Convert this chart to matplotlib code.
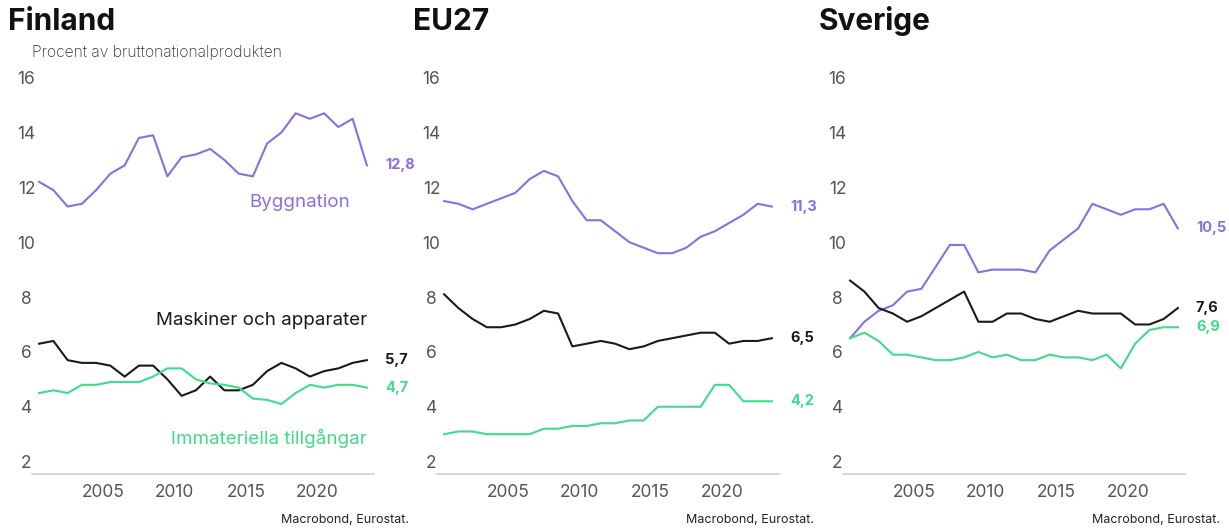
import matplotlib
matplotlib.use('Agg')
import matplotlib.pyplot as plt
import numpy as np

plt.rcParams['font.family'] = ['Inter', 'DejaVu Sans']

# Data: andel av BNP, 2000-2023
years = list(range(2000, 2024))

fi_bygg = [12.2, 11.9, 11.3, 11.4, 11.9, 12.5, 12.8, 13.8, 13.9, 12.4, 13.1, 13.2,
           13.4, 13.0, 12.5, 12.4, 13.6, 14.0, 14.7, 14.5, 14.7, 14.2, 14.5, 12.8]
fi_mask = [6.3, 6.4, 5.7, 5.6, 5.6, 5.5, 5.1, 5.5, 5.5, 5.0, 4.4, 4.6,
           5.1, 4.6, 4.6, 4.8, 5.3, 5.6, 5.4, 5.1, 5.3, 5.4, 5.6, 5.7]
fi_imm = [4.5, 4.6, 4.5, 4.8, 4.8, 4.9, 4.9, 4.9, 5.1, 5.4, 5.4, 5.0,
          4.85, 4.8, 4.7, 4.3, 4.25, 4.1, 4.5, 4.8, 4.7, 4.8, 4.8, 4.7]

eu_bygg = [11.5, 11.4, 11.2, 11.4, 11.6, 11.8, 12.3, 12.6, 12.4, 11.5, 10.8, 10.8,
           10.4, 10.0, 9.8, 9.6, 9.6, 9.8, 10.2, 10.4, 10.7, 11.0, 11.4, 11.3]
eu_mask = [8.1, 7.6, 7.2, 6.9, 6.9, 7.0, 7.2, 7.5, 7.4, 6.2, 6.3, 6.4,
           6.3, 6.1, 6.2, 6.4, 6.5, 6.6, 6.7, 6.7, 6.3, 6.4, 6.4, 6.5]
eu_imm = [3.0, 3.1, 3.1, 3.0, 3.0, 3.0, 3.0, 3.2, 3.2, 3.3, 3.3, 3.4,
          3.4, 3.5, 3.5, 4.0, 4.0, 4.0, 4.0, 4.8, 4.8, 4.2, 4.2, 4.2]

se_bygg = [6.5, 7.1, 7.5, 7.7, 8.2, 8.3, 9.1, 9.9, 9.9, 8.9, 9.0, 9.0,
           9.0, 8.9, 9.7, 10.1, 10.5, 11.4, 11.2, 11.0, 11.2, 11.2, 11.4, 10.5]
se_mask = [8.6, 8.2, 7.6, 7.4, 7.1, 7.3, 7.6, 7.9, 8.2, 7.1, 7.1, 7.4,
           7.4, 7.2, 7.1, 7.3, 7.5, 7.4, 7.4, 7.4, 7.0, 7.0, 7.2, 7.6]
se_imm = [6.5, 6.7, 6.4, 5.9, 5.9, 5.8, 5.7, 5.7, 5.8, 6.0, 5.8, 5.9,
          5.7, 5.7, 5.9, 5.8, 5.8, 5.7, 5.9, 5.4, 6.3, 6.8, 6.9, 6.9]

titles = ['Finland', 'EU27', 'Sverige']
panels = [(fi_bygg, fi_mask, fi_imm), (eu_bygg, eu_mask, eu_imm), (se_bygg, se_mask, se_imm)]

# färger
lila = '#8a6fe0'
svart = '#1a1a1a'
gron = '#3fdc8a'
farger = [lila, svart, gron]

fig = plt.figure(figsize=(12.29, 5.30), dpi=100)

lefts = [32, 437, 843]
W, H = 1229, 530
x = np.array(years) + 0.5

for i, (title, serier) in enumerate(zip(titles, panels)):
    ax = fig.add_axes([lefts[i] / W, 0.1057, 342 / W, 0.7737])
    for s, c in zip(serier, farger):
        ax.plot(x, s, color=c, lw=1.5, solid_joinstyle='round')
        ax.annotate(f'{s[-1]:.1f}'.replace('.', ','), (x[-1], s[-1]),
                    xytext=(13, 0), textcoords='offset points',
                    va='center', ha='left', fontsize=10.5, fontweight='bold', color=c)
    ax.set_xlim(2000, 2024)
    ax.set_ylim(1.55, 16.5)
    ax.set_yticks([2, 4, 6, 8, 10, 12, 14, 16])
    ax.set_xticks([2005, 2010, 2015, 2020])
    for sp in ['top', 'right', 'left']:
        ax.spines[sp].set_visible(False)
    ax.spines['bottom'].set_color('#d0d0d0')
    ax.spines['bottom'].set_linewidth(1.2)
    ax.tick_params(axis='both', length=0, labelsize=12.5, labelcolor='#555555')
    ax.tick_params(axis='y', pad=4)
    ax.tick_params(axis='x', pad=7)
    for lab in ax.get_yticklabels():
        lab.set_ha('center')
    ax.patch.set_alpha(0)

    fig.text((lefts[i] - 24) / W, 1 - 30 / H, title, fontsize=21.5, fontweight='bold',
             va='baseline', ha='left', color='#111111')
    fig.text((lefts[i] + 342 + 35) / W, 1 - 520 / H, 'Macrobond, Eurostat.',
             fontsize=9, ha='right', va='center', color='#222222')

    if i == 0:
        fig.text(32 / W, 1 - 57 / H, 'Procent av bruttonationalprodukten',
                 fontsize=11.3, va='baseline', ha='left', color='#333333', fontweight='light')
        ax.text(2018.8, 11.43, 'Byggnation', color=lila, fontsize=13.5,
                ha='center', va='center')
        ax.text(2023.5, 7.16, 'Maskiner och apparater', color=svart, fontsize=13.5,
                ha='right', va='center')
        ax.text(2023.5, 2.86, 'Immateriella tillgångar', color=gron, fontsize=13.5,
                ha='right', va='center')

plt.savefig('out.png', dpi=100)
